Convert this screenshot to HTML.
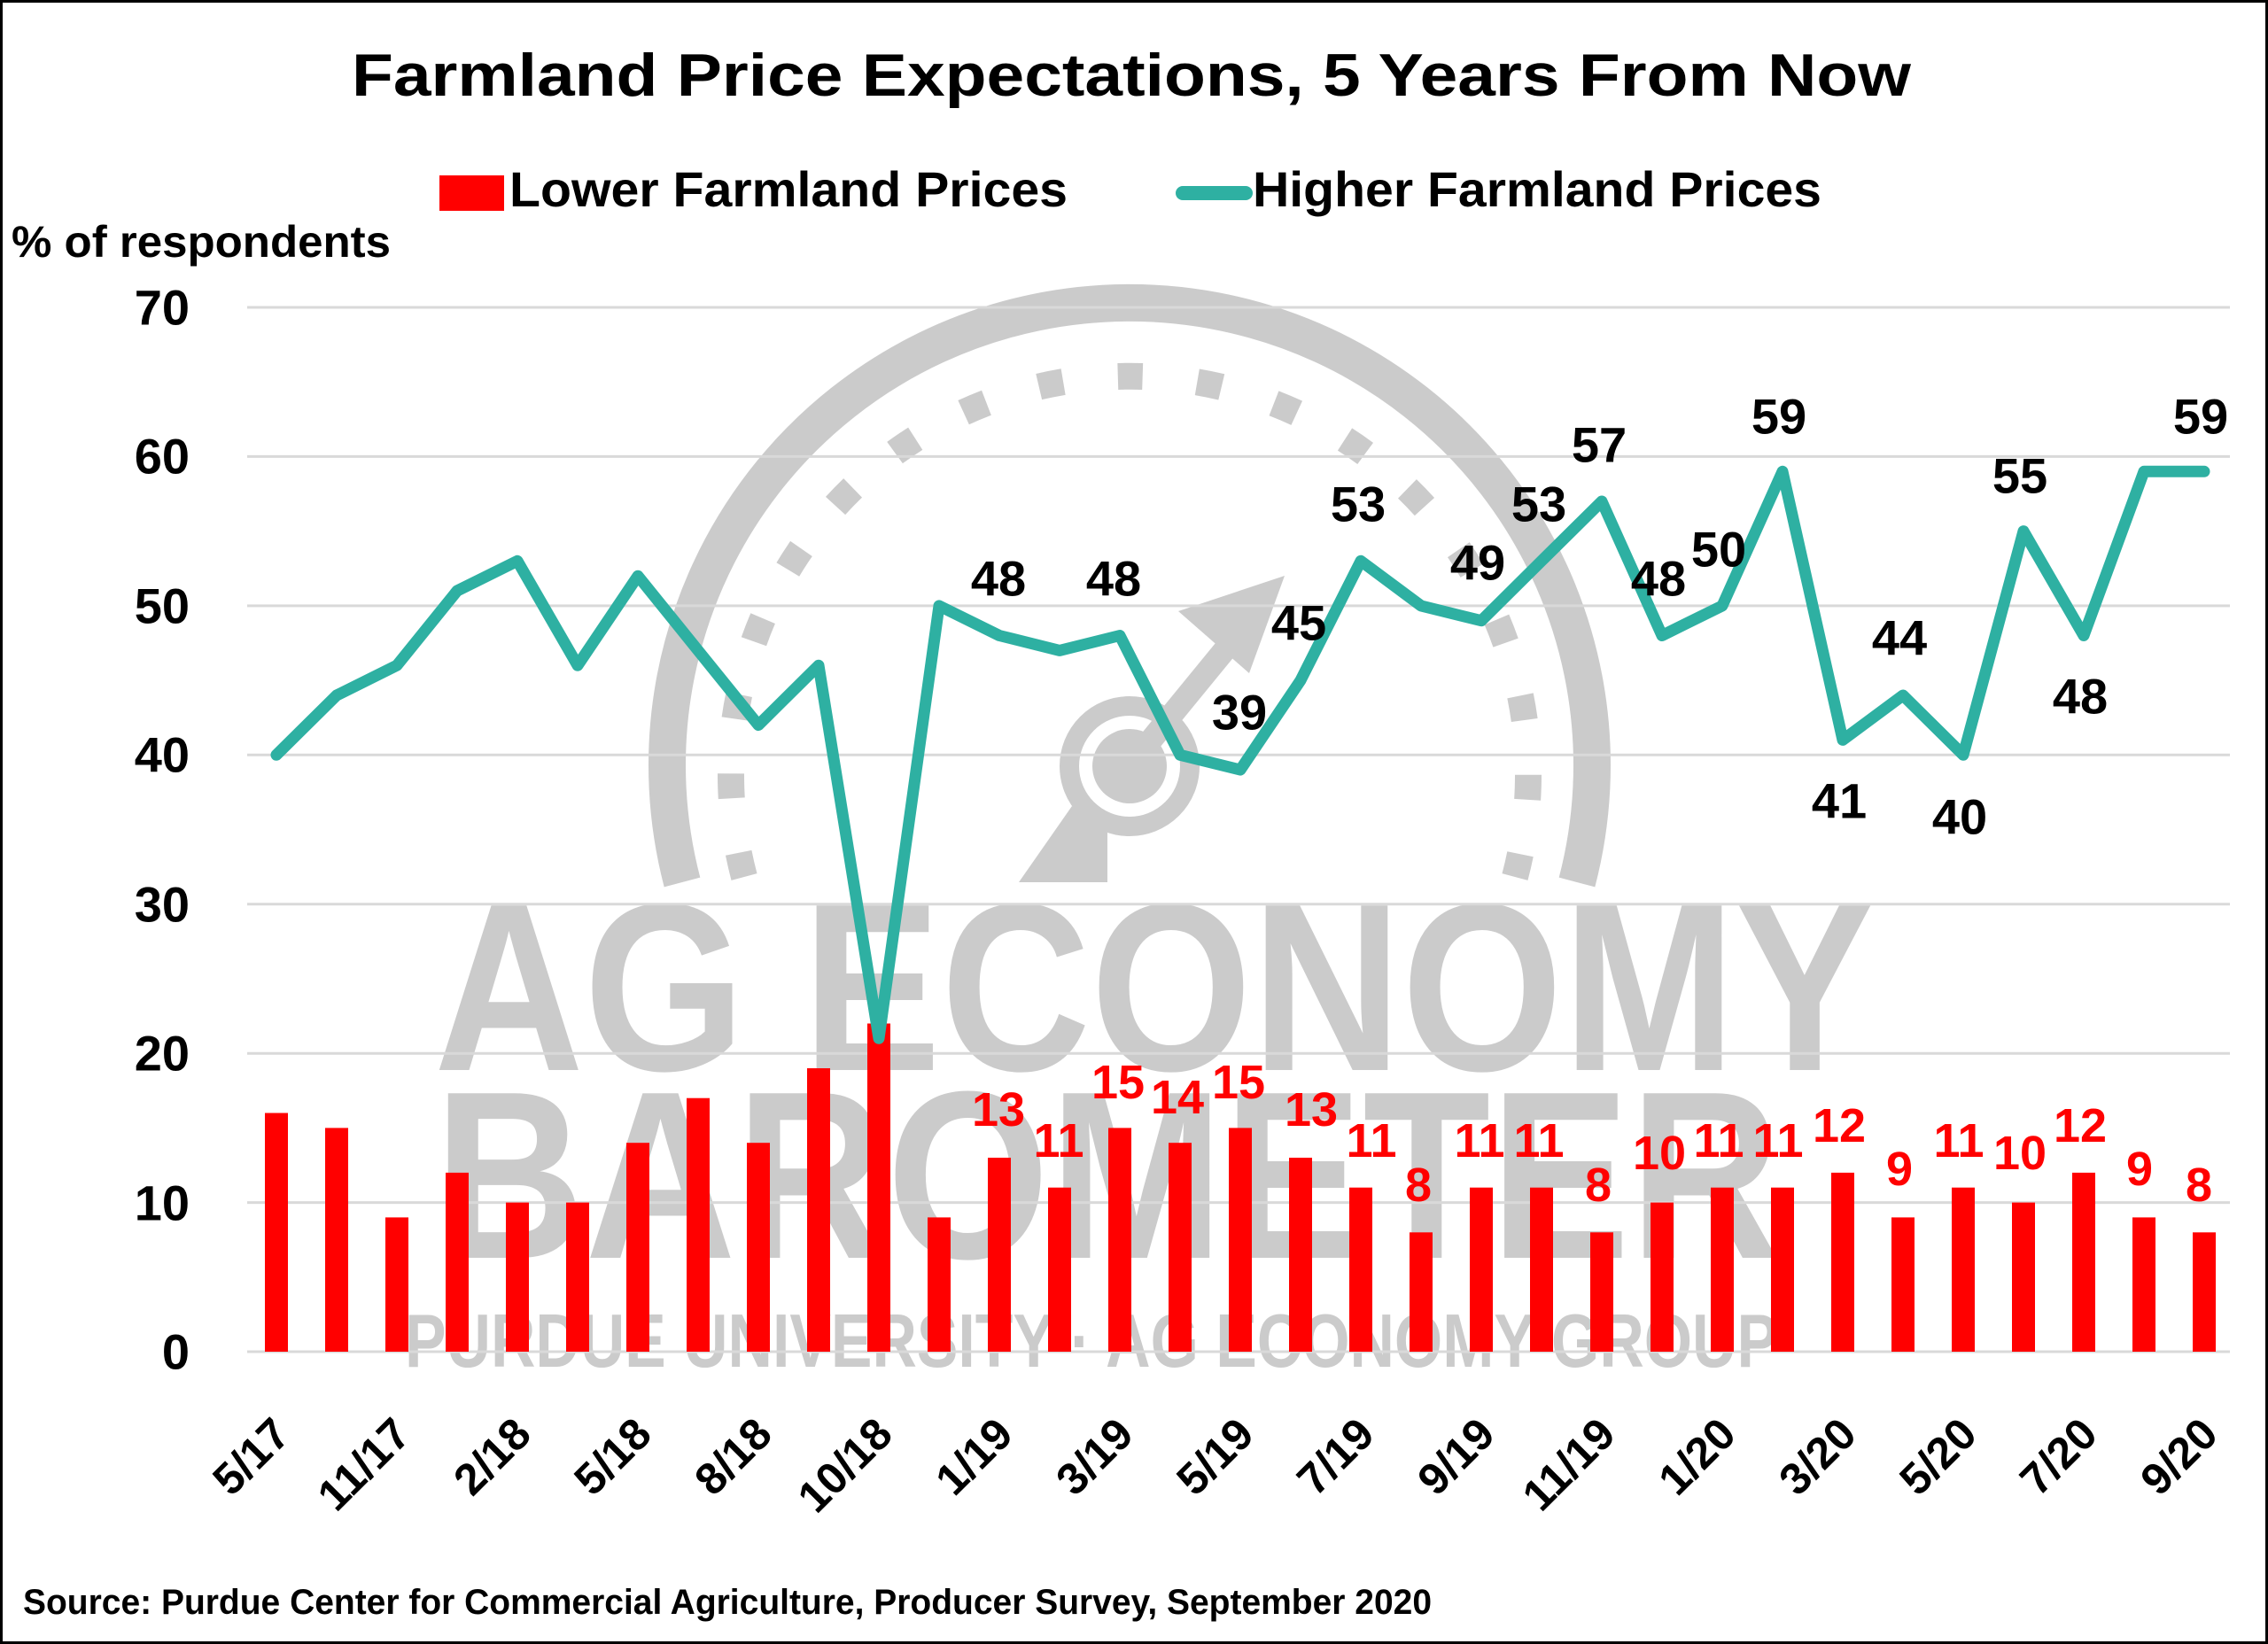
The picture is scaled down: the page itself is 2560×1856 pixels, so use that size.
<!DOCTYPE html>
<html><head><meta charset="utf-8"><style>
html,body{margin:0;padding:0;background:#fff}
svg{display:block}
text{font-family:"Liberation Sans",sans-serif;font-weight:bold}
</style></head><body>
<svg width="2560" height="1856" viewBox="0 0 2560 1856" xmlns="http://www.w3.org/2000/svg">
<rect x="1.5" y="1.5" width="2557" height="1853" fill="#fff" stroke="#000" stroke-width="3"/>
<text x="1277" y="108" font-size="68" text-anchor="middle" textLength="1760" lengthAdjust="spacingAndGlyphs">Farmland Price Expectations, 5 Years From Now</text>
<rect x="496" y="198" width="73" height="40" fill="#f00"/>
<text x="575" y="233" font-size="56" textLength="630" lengthAdjust="spacingAndGlyphs">Lower Farmland Prices</text>
<line x1="1335" y1="218" x2="1406" y2="218" stroke="#2EB0A2" stroke-width="16" stroke-linecap="round"/>
<text x="1414" y="233" font-size="56" textLength="642" lengthAdjust="spacingAndGlyphs">Higher Farmland Prices</text>
<text x="13" y="290" font-size="50" textLength="428" lengthAdjust="spacingAndGlyphs">% of respondents</text>
<!-- watermark -->
<g fill="#cbcbcb" stroke="none">
<path d="M 770 996 A 522 522 0 1 1 1780 996" fill="none" stroke="#cbcbcb" stroke-width="42"/>
<path d="M 840 990 A 450 450 0 1 1 1710 990" fill="none" stroke="#cbcbcb" stroke-width="30" stroke-dasharray="28 62"/>
<line x1="1275" y1="865" x2="1410" y2="700" stroke="#cbcbcb" stroke-width="26"/>
<polygon points="1450,650 1330,690 1410,760"/>
<circle cx="1275" cy="865" r="68" fill="none" stroke="#cbcbcb" stroke-width="22"/>
<circle cx="1275" cy="865" r="42"/>
<polygon points="1210,910 1150,996 1250,996 1250,940"/>
<text x="490" y="1208" font-size="270" textLength="1625" lengthAdjust="spacingAndGlyphs">AG ECONOMY</text>
<text x="490" y="1420" font-size="270" textLength="1520" lengthAdjust="spacingAndGlyphs">BAROMETER</text>
<text x="457" y="1543" font-size="85" textLength="1550" lengthAdjust="spacingAndGlyphs">PURDUE UNIVERSITY · AG ECONOMY GROUP</text>
</g>
<!-- grid -->
<g stroke="#d9d9d9" stroke-width="3">
<line x1="279" x2="2517" y1="347" y2="347"/>
<line x1="279" x2="2517" y1="515.4" y2="515.4"/>
<line x1="279" x2="2517" y1="683.9" y2="683.9"/>
<line x1="279" x2="2517" y1="852.3" y2="852.3"/>
<line x1="279" x2="2517" y1="1020.7" y2="1020.7"/>
<line x1="279" x2="2517" y1="1189.2" y2="1189.2"/>
<line x1="279" x2="2517" y1="1357.6" y2="1357.6"/>
<line x1="279" x2="2517" y1="1526" y2="1526"/>
</g>
<g font-size="56" text-anchor="end" dominant-baseline="central">
<text x="214" y="347">70</text><text x="214" y="515">60</text><text x="214" y="684">50</text>
<text x="214" y="852">40</text><text x="214" y="1021">30</text><text x="214" y="1189">20</text>
<text x="214" y="1358">10</text><text x="214" y="1526">0</text>
</g>
<!-- bars -->
<g fill="#f00">
<rect x="299" y="1256.5" width="26" height="269.5"/>
<rect x="367" y="1273.4" width="26" height="252.6"/>
<rect x="435" y="1374.4" width="26" height="151.6"/>
<rect x="503" y="1323.9" width="26" height="202.1"/>
<rect x="571" y="1357.6" width="26" height="168.4"/>
<rect x="639" y="1357.6" width="26" height="168.4"/>
<rect x="707" y="1290.2" width="26" height="235.8"/>
<rect x="775" y="1239.7" width="26" height="286.3"/>
<rect x="843" y="1290.2" width="26" height="235.8"/>
<rect x="911" y="1206" width="26" height="320"/>
<rect x="979" y="1155.5" width="26" height="370.5"/>
<rect x="1047" y="1374.4" width="26" height="151.6"/>
<rect x="1115" y="1307" width="26" height="219"/>
<rect x="1183" y="1340.7" width="26" height="185.3"/>
<rect x="1251" y="1273.4" width="26" height="252.6"/>
<rect x="1319" y="1290.2" width="26" height="235.8"/>
<rect x="1387" y="1273.4" width="26" height="252.6"/>
<rect x="1455" y="1307" width="26" height="219"/>
<rect x="1523" y="1340.7" width="26" height="185.3"/>
<rect x="1591" y="1391.3" width="26" height="134.7"/>
<rect x="1659" y="1340.7" width="26" height="185.3"/>
<rect x="1727" y="1340.7" width="26" height="185.3"/>
<rect x="1795" y="1391.3" width="26" height="134.7"/>
<rect x="1863" y="1357.6" width="26" height="168.4"/>
<rect x="1931" y="1340.7" width="26" height="185.3"/>
<rect x="1999" y="1340.7" width="26" height="185.3"/>
<rect x="2067" y="1323.9" width="26" height="202.1"/>
<rect x="2135" y="1374.4" width="26" height="151.6"/>
<rect x="2203" y="1340.7" width="26" height="185.3"/>
<rect x="2271" y="1357.6" width="26" height="168.4"/>
<rect x="2339" y="1323.9" width="26" height="202.1"/>
<rect x="2407" y="1374.4" width="26" height="151.6"/>
<rect x="2475" y="1391.3" width="26" height="134.7"/>
</g>
<!-- line -->
<polyline fill="none" stroke="#2EB0A2" stroke-width="13" stroke-linejoin="round" stroke-linecap="round" points="312,852.3 380,785 448,751.2 516,667 584,633.3 652,751.2 720,650.2 788,734.4 856,818.6 924,751.2 992,1172.3 1060,683.9 1128,717.5 1196,734.4 1264,717.5 1332,852.3 1400,869.1 1468,768.1 1536,633.3 1604,683.9 1672,700.7 1740,633.3 1808,566 1876,717.5 1944,683.9 2012,532.3 2080,835.4 2148,785 2216,852.3 2284,599.6 2352,717.5 2420,532.3 2488,532.3"/>
<!-- line labels -->
<g font-size="56" text-anchor="middle" dominant-baseline="central" fill="#000">
<text x="1127" y="653">48</text><text x="1257" y="653">48</text><text x="1399" y="804">39</text>
<text x="1466" y="703">45</text><text x="1533" y="569">53</text><text x="1668" y="635">49</text>
<text x="1737" y="569">53</text><text x="1805" y="502">57</text><text x="1872" y="653">48</text>
<text x="1940" y="620">50</text><text x="2008" y="470">59</text><text x="2076" y="904">41</text>
<text x="2144" y="720">44</text><text x="2212" y="922">40</text><text x="2280" y="537">55</text>
<text x="2348" y="786">48</text><text x="2484" y="470">59</text>
</g>
<!-- bar labels -->
<g font-size="54" text-anchor="middle" dominant-baseline="central" fill="#f00">
<text x="1127" y="1253">13</text><text x="1195" y="1288">11</text><text x="1262" y="1222">15</text>
<text x="1329" y="1239">14</text><text x="1398" y="1222">15</text><text x="1480" y="1253">13</text>
<text x="1548" y="1288">11</text><text x="1601" y="1338">8</text><text x="1670" y="1288">11</text>
<text x="1737" y="1288">11</text><text x="1804" y="1338">8</text><text x="1873" y="1302">10</text>
<text x="1940" y="1288">11</text><text x="2007" y="1288">11</text><text x="2076" y="1271">12</text>
<text x="2144" y="1320">9</text><text x="2211" y="1288">11</text><text x="2280" y="1302">10</text>
<text x="2348" y="1271">12</text><text x="2415" y="1320">9</text><text x="2482" y="1338">8</text>
</g>
<!-- x labels -->
<g font-size="50" text-anchor="end">
<text transform="translate(330,1622) rotate(-45)">5/17</text>
<text transform="translate(466,1622) rotate(-45)">11/17</text>
<text transform="translate(602,1622) rotate(-45)">2/18</text>
<text transform="translate(738,1622) rotate(-45)">5/18</text>
<text transform="translate(874,1622) rotate(-45)">8/18</text>
<text transform="translate(1010,1622) rotate(-45)">10/18</text>
<text transform="translate(1146,1622) rotate(-45)">1/19</text>
<text transform="translate(1282,1622) rotate(-45)">3/19</text>
<text transform="translate(1418,1622) rotate(-45)">5/19</text>
<text transform="translate(1554,1622) rotate(-45)">7/19</text>
<text transform="translate(1690,1622) rotate(-45)">9/19</text>
<text transform="translate(1826,1622) rotate(-45)">11/19</text>
<text transform="translate(1962,1622) rotate(-45)">1/20</text>
<text transform="translate(2098,1622) rotate(-45)">3/20</text>
<text transform="translate(2234,1622) rotate(-45)">5/20</text>
<text transform="translate(2370,1622) rotate(-45)">7/20</text>
<text transform="translate(2506,1622) rotate(-45)">9/20</text>
</g>
<text x="26" y="1822" font-size="40" textLength="1590" lengthAdjust="spacingAndGlyphs">Source: Purdue Center for Commercial Agriculture, Producer Survey, September 2020</text>
</svg>
</body></html>
